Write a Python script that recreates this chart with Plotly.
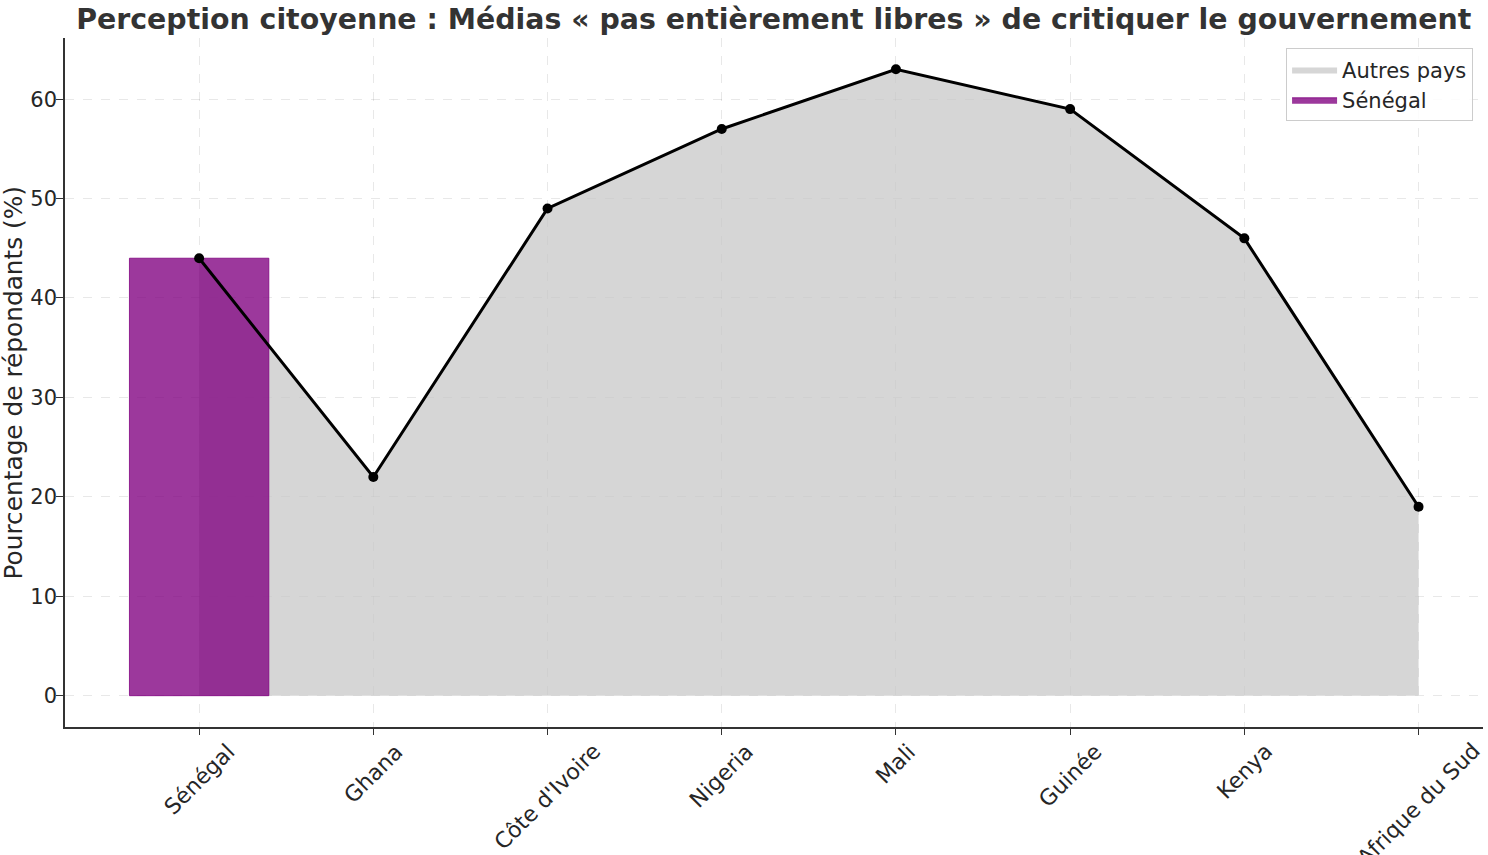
import plotly.graph_objects as go

countries = ["Sénégal", "Ghana", "Côte d'Ivoire", "Nigeria", "Mali", "Guinée", "Kenya", "Afrique du Sud"]
values = [44, 22, 49, 57, 63, 59, 46, 19]
highlight = "Sénégal"
yticks = [0, 10, 20, 30, 40, 50, 60]

title = "Perception citoyenne : Médias « pas entièrement libres » de critiquer le gouvernement"
ylabel = "Pourcentage de répondants (%)"

xs = list(range(len(countries)))
hi = countries.index(highlight)
bar_w = 0.8

FONT = "DejaVu Sans"
TXT = "#262626"

fig = go.Figure()

# grey area under the curve
fig.add_trace(go.Scatter(
    x=xs, y=values, mode="lines", fill="tozeroy",
    fillcolor="rgba(200,200,200,0.75)", line=dict(width=0, color="rgba(0,0,0,0)"),
    name="Autres pays", hoverinfo="skip"))

# highlighted bar (as a filled polygon so it sits above the grey area)
bx = [hi - bar_w / 2, hi + bar_w / 2, hi + bar_w / 2, hi - bar_w / 2, hi - bar_w / 2]
by = [0, 0, values[hi], values[hi], 0]
fig.add_trace(go.Scatter(
    x=bx, y=by, mode="lines", fill="toself",
    fillcolor="rgba(128,0,128,0.78)", line=dict(width=1, color="rgba(128,0,128,0.8)"),
    name=highlight))

# line with markers
fig.add_trace(go.Scatter(
    x=xs, y=values, mode="lines+markers",
    line=dict(color="black", width=3), marker=dict(color="black", size=10),
    showlegend=False))

# rotated x labels, centered on ticks
for i, c in enumerate(countries):
    fig.add_annotation(x=i, y=0, xref="x", yref="paper", text=c, showarrow=False,
                       textangle=-45, xanchor="center", yanchor="top", yshift=-9,
                       font=dict(family=FONT, size=22, color=TXT))

# y axis title
fig.add_annotation(x=0, y=0.5, xref="paper", yref="paper", text=ylabel, showarrow=False,
                   textangle=-90, xanchor="center", yanchor="middle", xshift=-52,
                   font=dict(family=FONT, size=24.8, color=TXT))

fig.update_layout(
    width=1488, height=855,
    margin=dict(l=65, r=5, t=38, b=128, autoexpand=False),
    paper_bgcolor="white", plot_bgcolor="white",
    font=dict(family=FONT, size=21, color=TXT),
    title=dict(text="<b>" + title + "</b>", x=0.52, xanchor="center", xref="container",
               y=0.978, yanchor="middle", yref="container",
               font=dict(family=FONT, size=28.4, color="#333333")),
    showlegend=True,
    legend=dict(x=0.993, y=0.985, xanchor="right", yanchor="top",
                bgcolor="rgba(255,255,255,0.85)", bordercolor="#cccccc", borderwidth=1,
                font=dict(family=FONT, size=21, color=TXT), tracegroupgap=2,
                itemwidth=45),
)

fig.update_xaxes(
    range=[-0.77, len(countries) - 1 + 0.37], automargin=False,
    tickvals=xs, ticktext=[""] * len(xs),
    showgrid=True, gridcolor="rgba(0,0,0,0.09)", griddash="dash", gridwidth=1,
    showline=True, linecolor="#333333", linewidth=1.5,
    ticks="outside", ticklen=6, tickcolor="#333333", zeroline=False)

fig.update_yaxes(
    range=[-3.15, 66.15], automargin=False,
    tickvals=yticks,
    showgrid=True, gridcolor="rgba(0,0,0,0.09)", griddash="dash", gridwidth=1,
    showline=True, linecolor="#333333", linewidth=1.5,
    ticks="outside", ticklen=7, tickcolor="#333333", zeroline=False,
    ticklabelstandoff=-5,
    tickfont=dict(family=FONT, size=21, color=TXT))

fig.write_html("out.html", config={"displayModeBar": False},
               post_script="document.body.style.margin='0';document.body.style.overflow='hidden';")
